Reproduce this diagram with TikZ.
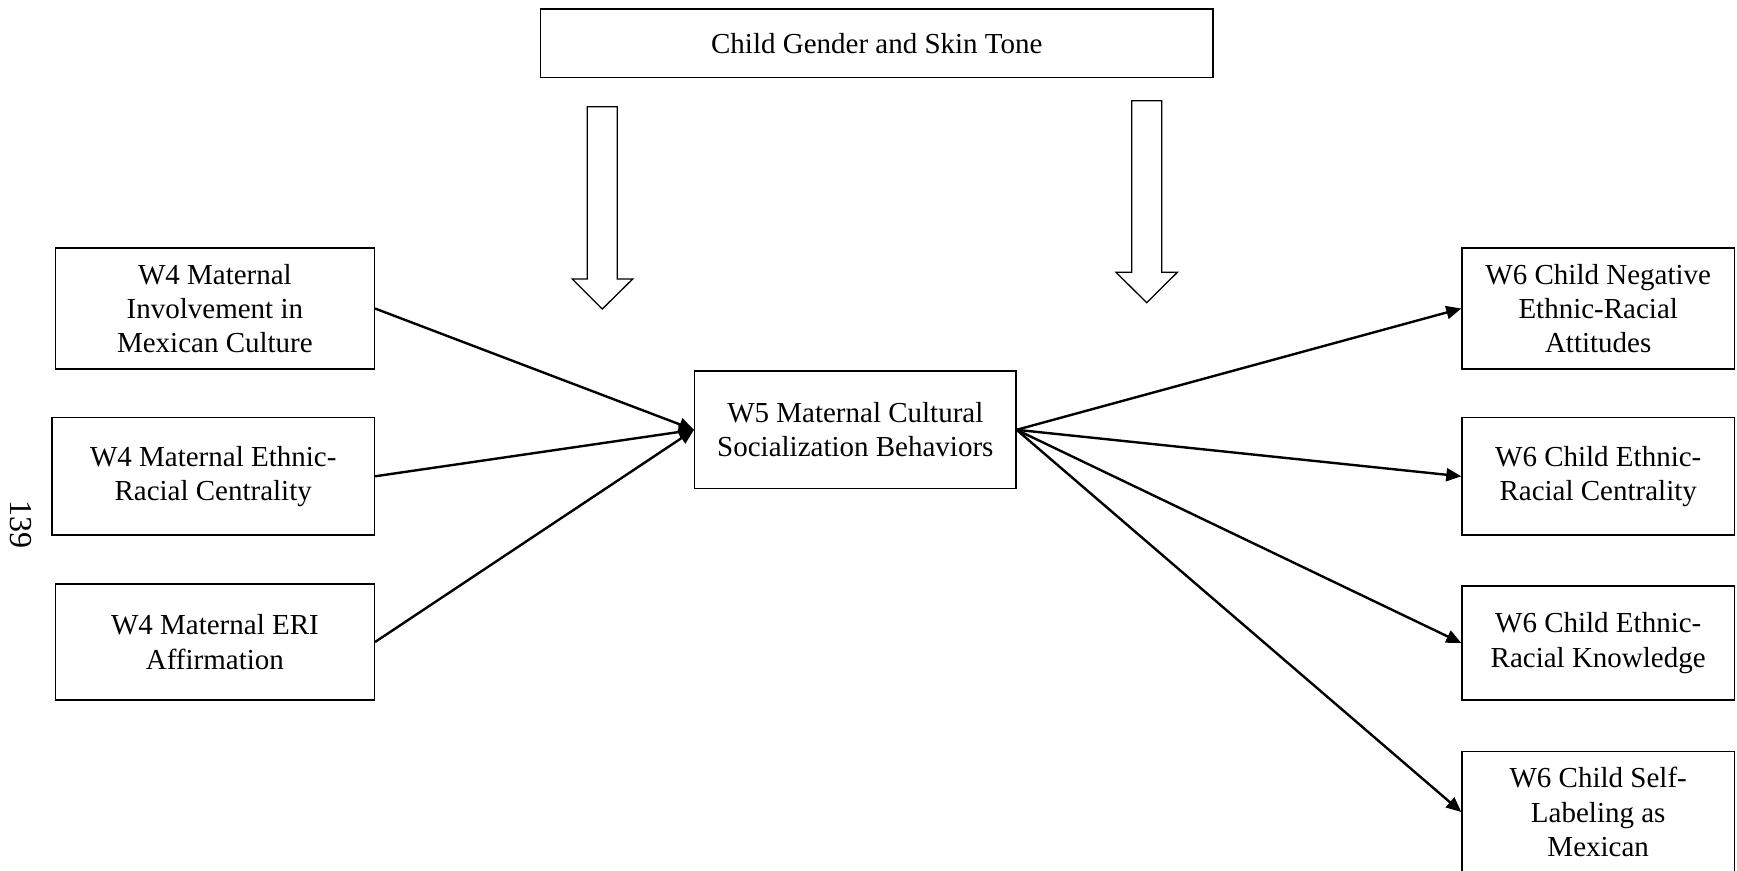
\documentclass[tikz,border=0pt]{standalone}
\usepackage{fontspec}
\setmainfont{Liberation Serif}
\usetikzlibrary{arrows.meta}

\tikzset{
  varbox/.style={draw, line width=1.3pt, align=center, inner sep=0pt,
    font=\fontsize{29}{34.4}\selectfont},
  path/.style={line width=2.4pt, -{Triangle[length=15pt,width=13pt]}},
  blockarrow/.style={draw, line width=1.3pt, fill=white, line join=miter}
}

\begin{document}
\begin{tikzpicture}[x=1pt,y=-1pt]
\useasboundingbox (0,0) rectangle (1737,870);

% moderator box
\node[varbox, minimum width=672.5pt, minimum height=68.6pt] (mod) at (876.8,43.2)
  {Child Gender and Skin Tone};

% block arrows from the moderator
\draw[blockarrow] (587.3,106.7) -- (617.3,106.7) -- (617.3,279) -- (632.7,279)
  -- (602.3,309) -- (572.3,279) -- (587.3,279) -- cycle;
\draw[blockarrow] (1131.7,100.7) -- (1161.7,100.7) -- (1161.7,272.3) -- (1177.3,272.3)
  -- (1146.7,302.7) -- (1116,272.3) -- (1131.7,272.3) -- cycle;

% W4 predictors
\node[varbox, minimum width=319pt, minimum height=121pt] (inv) at (214.9,308.5)
  {W4 Maternal\\Involvement in\\Mexican Culture};
\node[varbox, minimum width=322.3pt, minimum height=117.4pt] (cen) at (213.2,476.3)
  {W4 Maternal Ethnic-\\Racial Centrality};
\node[varbox, minimum width=319pt, minimum height=116pt] (aff) at (214.9,642)
  {W4 Maternal ERI\\Affirmation};

% W5 mediator
\node[varbox, minimum width=321.3pt, minimum height=117.4pt] (soc) at (855.3,429.8)
  {W5 Maternal Cultural\\Socialization Behaviors};

% W6 outcomes
\node[varbox, minimum width=272.5pt, minimum height=121pt] (att) at (1598.2,308.5)
  {W6 Child Negative\\Ethnic-Racial\\Attitudes};
\node[varbox, minimum width=272.5pt, minimum height=117.4pt] (ccen) at (1598.2,476.3)
  {W6 Child Ethnic-\\Racial Centrality};
\node[varbox, minimum width=272.5pt, minimum height=114pt] (know) at (1598.2,643)
  {W6 Child Ethnic-\\Racial Knowledge};
\node[varbox, minimum width=272.5pt, minimum height=121pt] (lab) at (1598.2,812)
  {W6 Child Self-\\Labeling as\\Mexican};

% paths
\draw[path] (inv.east) -- (soc.west);
\draw[path] (cen.east) -- (soc.west);
\draw[path] (aff.east) -- (soc.west);
\draw[path] (soc.east) -- (att.west);
\draw[path] (soc.east) -- (ccen.west);
\draw[path] (soc.east) -- (know.west);
\draw[path] (soc.east) -- (lab.west);

% page number
\node[rotate=-90, font=\fontsize{32}{36}\selectfont, inner sep=0pt] (pg) at (21,524) {139};
\end{tikzpicture}
\end{document}
